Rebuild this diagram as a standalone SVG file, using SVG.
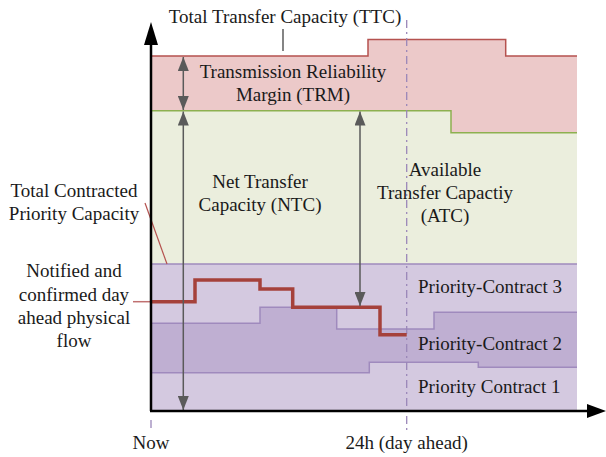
<svg xmlns="http://www.w3.org/2000/svg" width="606" height="457" viewBox="0 0 606 457">
<style>
text{font-family:"Liberation Serif","Times New Roman",serif;font-size:19px;fill:#1a1a1a}
.c{text-anchor:middle}
.pl{fill:none;stroke:#9f8abd;stroke-width:1.5}
.ga{stroke:#5a5a5a;stroke-width:1.5;fill:none}
.dd{stroke:#9a86b8;stroke-width:1.3;stroke-dasharray:8 4 2 4;fill:none}
</style>
<defs>
<marker id="ah" viewBox="0 0 14 11" refX="14" refY="5.5" markerWidth="14" markerHeight="11" markerUnits="userSpaceOnUse" orient="auto-start-reverse">
<path d="M0,0 L14,5.5 L0,11 Z" fill="#5a5a5a"/>
</marker>
</defs>
<g id="bands">
<path d="M151,56 H368 V39.5 H505.7 V56 H577 V132.7 H451 V110.7 H151 Z" fill="#ecc9c9"/>
<path d="M151,110.7 H451 V132.7 H577 V264 H151 Z" fill="#ebeedd"/>
<rect x="151" y="264" width="426" height="146" fill="#d4c9e0"/>
<path d="M151,323.3 H260 V307.3 H336.7 V329 H434 V312.3 H577 V367.3 H478.3 V362.3 H369.3 V372.7 H151 Z" fill="#bfafd2"/>
</g>
<g id="connectors">
<path d="M151,56 H368 V39.5 H505.7 V56 H577" fill="none" stroke="#b5524f" stroke-width="1.5"/>
<path d="M151,110.7 H451 V132.7 H577" fill="none" stroke="#8db050" stroke-width="1.5"/>
<path class="pl" d="M151,264 H577"/>
<path class="pl" d="M151,323.3 H260 V307.3 H336.7 V329 H434 V312.3 H577"/>
<path class="pl" d="M151,372.7 H369.3 V362.3 H478.3 V367.3 H577"/>
<path class="dd" d="M406.7,20 V430"/>
<path class="dd" d="M151,420 V430"/>
<path d="M283,29 V51" stroke="#333" stroke-width="1.2"/>
<path d="M145,203 L167,264" stroke="#b5524f" stroke-width="1.2"/>
<path d="M133,301.7 H152" stroke="#c07070" stroke-width="1.5"/>
<path d="M151,301.7 H195 V280 H260 V289 H292.7 V307.3 H380 V334.7 H406.7" fill="none" stroke="#a5413b" stroke-width="3.5"/>
<path class="ga" d="M183.3,57 V110" marker-start="url(#ah)" marker-end="url(#ah)"/>
<path class="ga" d="M183.3,111.5 V410" marker-start="url(#ah)" marker-end="url(#ah)"/>
<path class="ga" d="M360,111.5 V306" marker-start="url(#ah)" marker-end="url(#ah)"/>
<path d="M151,411 V40" stroke="#000" stroke-width="2.5"/>
<path d="M144,45 L151,22 L158,45 Z" fill="#000"/>
<path d="M150,411 H590" stroke="#000" stroke-width="2.5"/>
<path d="M587,404 L606,411 L587,418 Z" fill="#000"/>
</g>
<g id="labels">
<text class="c" x="285" y="23">Total Transfer Capacity (TTC)</text>
<text class="c" x="293" y="78">Transmission Reliability</text>
<text class="c" x="293" y="101">Margin (TRM)</text>
<text class="c" x="260" y="188">Net Transfer</text>
<text class="c" x="260" y="211">Capacity (NTC)</text>
<text class="c" x="445" y="176">Available</text>
<text class="c" x="445" y="199">Transfer Capactiy</text>
<text class="c" x="445" y="222">(ATC)</text>
<text class="c" x="74" y="197">Total Contracted</text>
<text class="c" x="74" y="220">Priority Capacity</text>
<text class="c" x="74" y="277">Notified and</text>
<text class="c" x="74" y="300.5">confirmed day</text>
<text class="c" x="74" y="324">ahead physical</text>
<text class="c" x="74" y="347">flow</text>
<text x="418" y="293">Priority-Contract 3</text>
<text x="418" y="350">Priority-Contract 2</text>
<text x="418" y="393">Priority Contract 1</text>
<text class="c" x="151" y="449">Now</text>
<text class="c" x="406.7" y="449">24h (day ahead)</text>
</g>
</svg>
